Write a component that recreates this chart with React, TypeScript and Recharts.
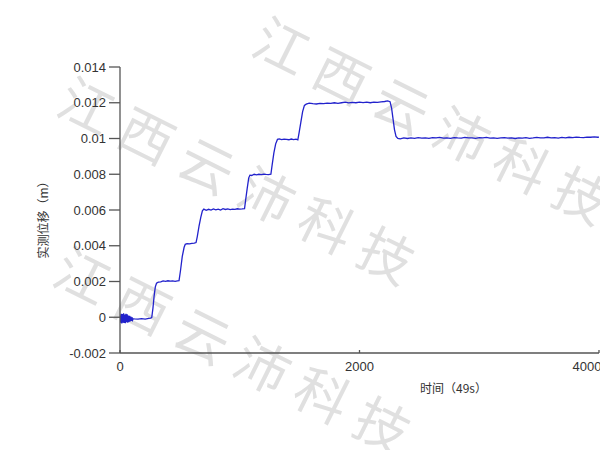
import React from 'react';
import { LineChart, Line, XAxis, YAxis } from 'recharts';

// time (49s units)
const timeValues: number[] = [
  0, 5, 10, 15, 20, 25, 30, 35, 40, 45, 50, 55, 60, 65, 70, 75, 80, 85, 90, 95, 100, 105, 110,
  120, 150, 180, 210, 240, 255, 265,
  275, 285, 295, 305, 320, 340, 360, 380, 400, 420, 440, 460, 480, 493,
  505, 520, 535, 545, 560, 580, 600, 620, 635,
  645, 660, 675, 688, 700, 720, 740, 760, 780, 800, 820, 840, 860, 880, 900, 920, 940, 960, 980, 1000, 1020, 1040,
  1050, 1062, 1075, 1085, 1100, 1120, 1140, 1160, 1180, 1200, 1220, 1240, 1260,
  1270, 1285, 1300, 1315, 1330, 1350, 1370, 1390, 1410, 1430, 1450, 1470, 1485,
  1495, 1510, 1525, 1540, 1555, 1580, 1610, 1640, 1670, 1700, 1730, 1760, 1790, 1820, 1850, 1880, 1910, 1940, 1970,
  2000, 2030, 2060, 2090, 2120, 2150, 2180, 2210, 2235, 2255,
  2268, 2280, 2292, 2305, 2320, 2340, 2370, 2400, 2430, 2460, 2490, 2520, 2550, 2580, 2610, 2640, 2670, 2700,
  2730, 2760, 2790, 2820, 2850, 2880, 2910, 2940, 2970, 3000, 3030, 3060, 3090, 3120, 3150, 3180, 3210, 3240,
  3270, 3300, 3330, 3360, 3390, 3420, 3450, 3480, 3510, 3540, 3570, 3600, 3630, 3660, 3690, 3720, 3750, 3780,
  3810, 3840, 3870, 3900, 3930, 3960, 3990, 4000,
];

// measured displacement (m)
const displacement: number[] = [
  0.0001, -0.0003, 0.0002, -0.00035, 0.00018, -0.0003, 0.00022, -0.00032, 0.00015, -0.00034, 0.0002, -0.00028, 0.00016, -0.0003, 0.0001, -0.00026, 0.00008, -0.00024, 0.00004, -0.0002, 0.0, -0.00016, -0.00008,
  -0.00009, -0.0001, -0.00008, -0.0001, -0.00006, -0.00005, -0.00002,
  0.0005, 0.0012, 0.0017, 0.0019, 0.00196, 0.00198, 0.00203, 0.00201, 0.00204, 0.00202, 0.00203, 0.00201, 0.00204, 0.00205,
  0.0026, 0.0034, 0.0039, 0.00408, 0.00412, 0.0041, 0.00413, 0.00415, 0.00418,
  0.0045, 0.0051, 0.0056, 0.00595, 0.00605, 0.00598, 0.00604, 0.006, 0.00606, 0.00601, 0.00605, 0.006, 0.00607, 0.00603, 0.00606, 0.00602, 0.00605, 0.00604, 0.00607, 0.00605, 0.00606, 0.00608,
  0.0066, 0.0072, 0.0078, 0.00795, 0.00793, 0.008, 0.00797, 0.008, 0.00798, 0.00801, 0.00799, 0.00798, 0.008,
  0.0085, 0.0092, 0.0097, 0.00995, 0.00998, 0.00994, 0.00997, 0.00995, 0.00993, 0.00997, 0.00994, 0.00996, 0.00992,
  0.0103, 0.0109, 0.0115, 0.01185, 0.01192, 0.01198, 0.01195, 0.01193, 0.01197, 0.01195, 0.01198, 0.01196, 0.012, 0.01197, 0.012, 0.01203, 0.01199, 0.01202, 0.012,
  0.01203, 0.01201, 0.01204, 0.012, 0.01203, 0.01202, 0.01205, 0.01207, 0.0121, 0.01206,
  0.0117, 0.0111, 0.0105, 0.01012, 0.01, 0.00998, 0.01003, 0.01, 0.01004, 0.01001, 0.01005, 0.01002, 0.01004, 0.01001, 0.01005, 0.01003, 0.01006, 0.01002,
  0.01004, 0.01001, 0.01005, 0.01003, 0.01002, 0.01006, 0.01003, 0.01004, 0.01001, 0.01005, 0.01003, 0.01006, 0.01002, 0.01004, 0.01001, 0.01003, 0.01005, 0.01002,
  0.01004, 0.01, 0.01003, 0.01002, 0.01005, 0.01001, 0.01003, 0.01006, 0.01003, 0.01004, 0.01007, 0.01004, 0.01005, 0.01002, 0.01006, 0.01004, 0.01007, 0.01005,
  0.01008, 0.01006, 0.01005, 0.01008, 0.01007, 0.01009, 0.01007, 0.01008,
];

const xTicks: number[] = [0, 2000, 4000];
const yTicks: number[] = [-0.002, 0, 0.002, 0.004, 0.006, 0.008, 0.01, 0.012, 0.014];
const yTickLabels: string[] = ['-0.002', '0', '0.002', '0.004', '0.006', '0.008', '0.01', '0.012', '0.014'];

const xTitle = '时间（49s）';
const yTitle = '实测位移（m）';
const watermark = '江西云沛科技';

const chartData = timeValues.map((t, i) => ({ t, v: displacement[i] }));

const tickFont = { fontFamily: '"Liberation Sans", Arial, sans-serif', fontSize: 13, fill: '#333' };
const cjkFont = '"Noto Sans CJK SC", "Liberation Sans", sans-serif';

const YTitle = (props: any) => {
  const vb = props.viewBox || { x: 0, y: 0, width: 0, height: 0 };
  const cx = vb.x + 42;
  const cy = vb.y + vb.height / 2 + 7;
  return (
    <text x={cx} y={cy} transform={`rotate(-90, ${cx}, ${cy})`} textAnchor="middle" dominantBaseline="central"
      fontFamily={cjkFont} fontSize={12} fill="#333">{yTitle}</text>
  );
};

const XTitle = (props: any) => {
  const vb = props.viewBox || { x: 0, y: 0, width: 0, height: 0 };
  const cx = vb.x + vb.width / 2 + 94;
  const cy = vb.y + 34;
  return (
    <text x={cx} y={cy} textAnchor="middle" dominantBaseline="central"
      fontFamily={cjkFont} fontSize={12} fill="#333">{xTitle}</text>
  );
};

const marks = [
  { x: 259, y: 31 },
  { x: 64, y: 91 },
  { x: 60, y: 261 },
];

export default function App() {
  return (
    <div style={{ position: 'absolute', left: 0, top: 0, width: 600, height: 450, background: '#fff', overflow: 'hidden' }}>
      <svg width={600} height={450} style={{ position: 'absolute', left: 0, top: 0 }}>
        {marks.map((m, i) => (
          <text key={i} x={m.x} y={m.y} transform={`rotate(26.5, ${m.x}, ${m.y})`} fontFamily={cjkFont}
            fontSize={54} letterSpacing={13} fill="#e0e0e0" dominantBaseline="central">{watermark}</text>
        ))}
      </svg>
      <div style={{ position: 'absolute', left: 0, top: 0 }}>
        <LineChart width={600} height={450} data={chartData} margin={{ top: 67, right: 1, bottom: 0, left: 0 }}>
          <XAxis dataKey="t" type="number" domain={[0, 4000]} ticks={xTicks} allowDataOverflow
            height={97} tickSize={-3} tickMargin={12} stroke="#555" strokeWidth={1.3}
            tick={tickFont} tickLine={{ stroke: '#555' }} label={<XTitle />} />
          <YAxis type="number" domain={[-0.002, 0.014]} ticks={yTicks} allowDataOverflow
            width={120} tickSize={11} tickMargin={3} stroke="#555" strokeWidth={1.3}
            tick={tickFont} tickFormatter={(v: number) => yTickLabels[yTicks.findIndex((y) => Math.abs(y - v) < 1e-9)] ?? String(v)}
            label={<YTitle />} />
          <Line type="linear" dataKey="v" stroke="#2222cc" strokeWidth={1.3} dot={false} isAnimationActive={false} />
        </LineChart>
      </div>
    </div>
  );
}
